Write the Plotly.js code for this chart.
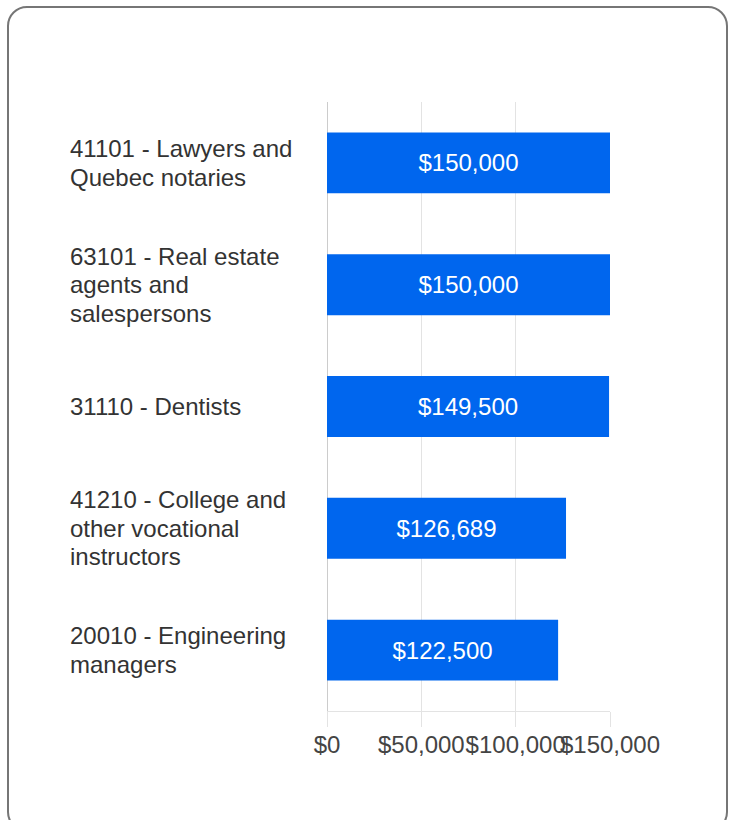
<!DOCTYPE html>
<html>
<head>
<meta charset="utf-8">
<script src="https://cdn.plot.ly/plotly-3.0.1.min.js"></script>
<style>
  html, body { margin: 0; padding: 0; background: #fff; overflow: hidden; }
  #wrap { position: relative; width: 734px; height: 820px; }
  #chart { position: absolute; left: 0; top: 0; width: 734px; height: 820px; }
  #card { position: absolute; left: 7px; top: 6px; width: 721px; height: 826px;
          border: 2px solid #767676; border-radius: 20px; pointer-events: none; box-sizing: border-box; }
</style>
</head>
<body>
<div id="wrap">
  <div id="chart"></div>
  <div id="card"></div>
</div>
<script>
const categories = [
  "41101 - Lawyers and<br>Quebec notaries",
  "63101 - Real estate<br>agents and<br>salespersons",
  "31110 - Dentists",
  "41210 - College and<br>other vocational<br>instructors",
  "20010 - Engineering<br>managers"
];
const salaries = [150000, 150000, 149500, 126689, 122500];
const tickValues = [0, 50000, 100000, 150000];
const tickLabels = ["$0", "$50,000", "$100,000", "$150,000"];

const FONT = "Liberation Sans, Arial, sans-serif";
const FS = 24;
const LINE_GAP = 28.5;

const trace = {
  type: "bar",
  orientation: "h",
  x: salaries,
  y: categories,
  marker: { color: "#0066EE" },
  texttemplate: "$%{x:,}",
  textposition: "inside",
  insidetextanchor: "middle",
  textfont: { family: FONT, size: FS, color: "#ffffff" },
  hoverinfo: "none"
};

const annotations = [];
categories.forEach(c => {
  const lines = c.split("<br>");
  lines.forEach((ln, i) => {
    annotations.push({
      xref: "paper", yref: "y",
      x: 0, y: c,
      xanchor: "left", yanchor: "middle",
      xshift: -259,
      yshift: -(i - (lines.length - 1) / 2) * LINE_GAP,
      align: "left",
      showarrow: false,
      text: ln,
      font: { family: FONT, size: FS, color: "#333333" }
    });
  });
});

const layout = {
  width: 734, height: 820,
  margin: { l: 327, r: 124, t: 102, b: 109, pad: 0 },
  paper_bgcolor: "#ffffff",
  plot_bgcolor: "#ffffff",
  showlegend: false,
  bargap: 0.5,
  xaxis: {
    range: [0, 150000],
    tickmode: "array",
    tickvals: tickValues,
    ticktext: tickLabels,
    tickangle: 0,
    showgrid: true,
    gridcolor: "#e3e3e3",
    zeroline: true,
    zerolinecolor: "#cccccc",
    zerolinewidth: 1,
    showline: true,
    linecolor: "#e3e3e3",
    linewidth: 1,
    ticks: "outside",
    ticklen: 15,
    ticklabelstandoff: -3,
    tickcolor: "#e3e3e3",
    tickfont: { family: FONT, size: FS, color: "#444444" },
    fixedrange: true
  },
  yaxis: {
    type: "category",
    categoryorder: "array",
    categoryarray: categories,
    autorange: false,
    range: [4.5, -0.5],
    showticklabels: false,
    showgrid: false,
    zeroline: false,
    showline: false,
    ticks: "",
    fixedrange: true
  },
  annotations: annotations,
  font: { family: FONT }
};

Plotly.newPlot("chart", [trace], layout, { displayModeBar: false, staticPlot: true });
</script>
</body>
</html>
